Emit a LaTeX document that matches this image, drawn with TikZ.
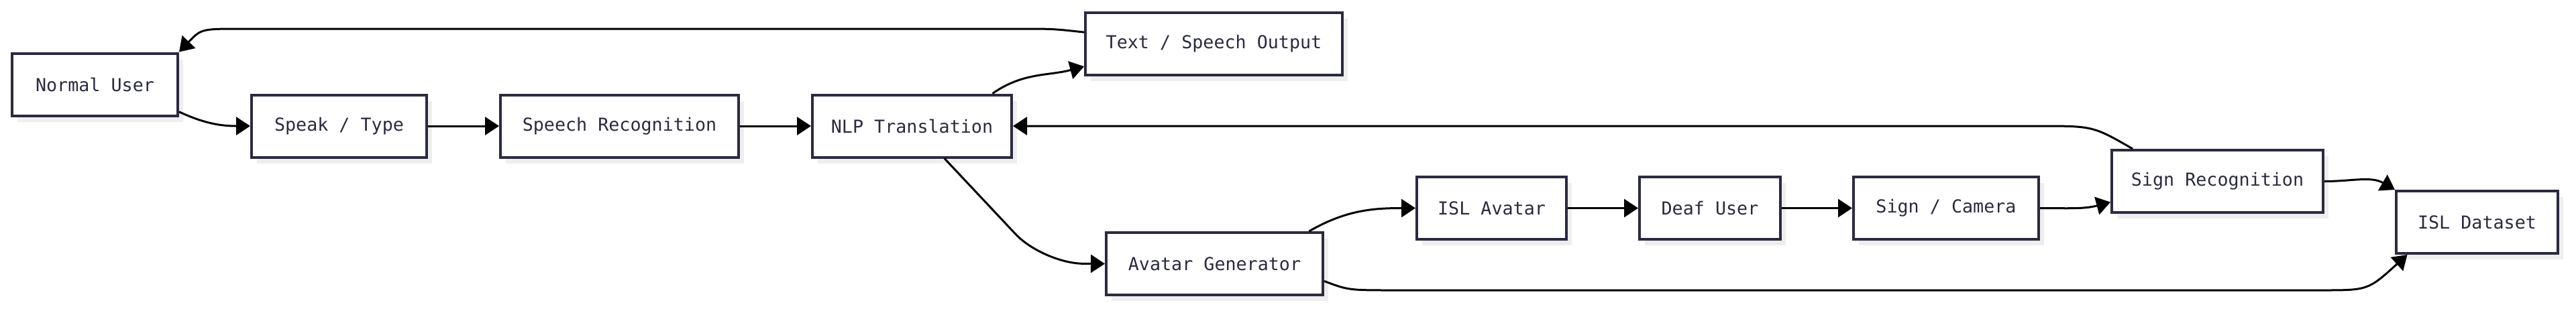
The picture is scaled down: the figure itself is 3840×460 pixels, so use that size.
\documentclass[tikz,border=0pt]{standalone}
\usepackage{fontspec}
\setmainfont{DejaVu Sans Mono}
\usetikzlibrary{arrows.meta,shadows}
\definecolor{ink}{HTML}{2A2A40}
\definecolor{shade}{HTML}{EEEEEE}

\begin{document}
\begin{tikzpicture}[x=0.1mm, y=-0.1mm]
	\tikzstyle{every node}=[inner sep=0pt, align=center, font=\fontsize{7.6}{9}\selectfont, text=ink]
	\tikzstyle{box}=[draw=ink, line width=0.4mm, fill=white, minimum height=9.3mm, drop shadow={shadow xshift=0.8mm, shadow yshift=-0.9mm, fill=shade, opacity=1}]
	\tikzstyle{arr}=[-{Triangle[length=2.1mm, width=2.7mm]}, line width=0.3mm, black]
	\useasboundingbox (0,0) rectangle (3840,460);
	\node[box, minimum width=24.7mm] (user) at (141.5, 126) {Normal User};
	\node[box, minimum width=26.1mm] (speak) at (505.5, 188) {Speak / Type};
	\node[box, minimum width=35.5mm] (speech) at (923.5, 188) {Speech Recognition};
	\node[box, minimum width=29.7mm] (nlp) at (1359.5, 188) {NLP Translation};
	\node[box, minimum width=38.3mm] (output) at (1809.5, 65) {Text / Speech Output};
	\node[box, minimum width=32.3mm] (avgen) at (1810.5, 393.5) {Avatar Generator};
	\node[box, minimum width=22.3mm] (islav) at (2223.5, 310.5) {ISL Avatar};
	\node[box, minimum width=21.0mm] (deaf) at (2549, 310.5) {Deaf User};
	\node[box, minimum width=27.6mm] (signcam) at (2901, 310.5) {Sign / Camera};
	\node[box, minimum width=31.5mm] (signrec) at (3305.5, 270.5) {Sign Recognition};
	\node[box, minimum width=24.1mm] (dataset) at (3692.5, 331.5) {ISL Dataset};
	% hearing side
	\draw[arr] (user.-18) to[out=-25, in=180] (speak.west);
	\draw[arr] (speak) -- (speech);
	\draw[arr] (speech) -- (nlp);
	\draw[arr] (nlp.22) to[out=35, in=195] (output.190);
	\draw[arr] (output.175) .. controls (1570,43) .. (1520,43) -- (360,43) .. controls (300,43) .. (user.north east);
	% deaf side
	\draw[arr, rounded corners=6mm] (nlp.-45) -- (1555,393) -- (avgen.west);
	\draw[arr] (avgen.19) to[out=30, in=180] (islav.west);
	\draw[arr] (islav) -- (deaf);
	\draw[arr] (deaf) -- (signcam);
	\draw[arr] (signcam.east) to[out=0, in=195] (signrec.191);
	\draw[arr] (signrec.159) .. controls (3120,188) .. (3040,188) -- (nlp.east);
	\draw[arr] (signrec.east) to[out=0, in=150] (dataset.north west);
	\draw[arr] (avgen.-9) .. controls (2010,433) .. (2080,433) -- (3460,433) .. controls (3530,433) .. (dataset.-155);
\end{tikzpicture}
\end{document}
